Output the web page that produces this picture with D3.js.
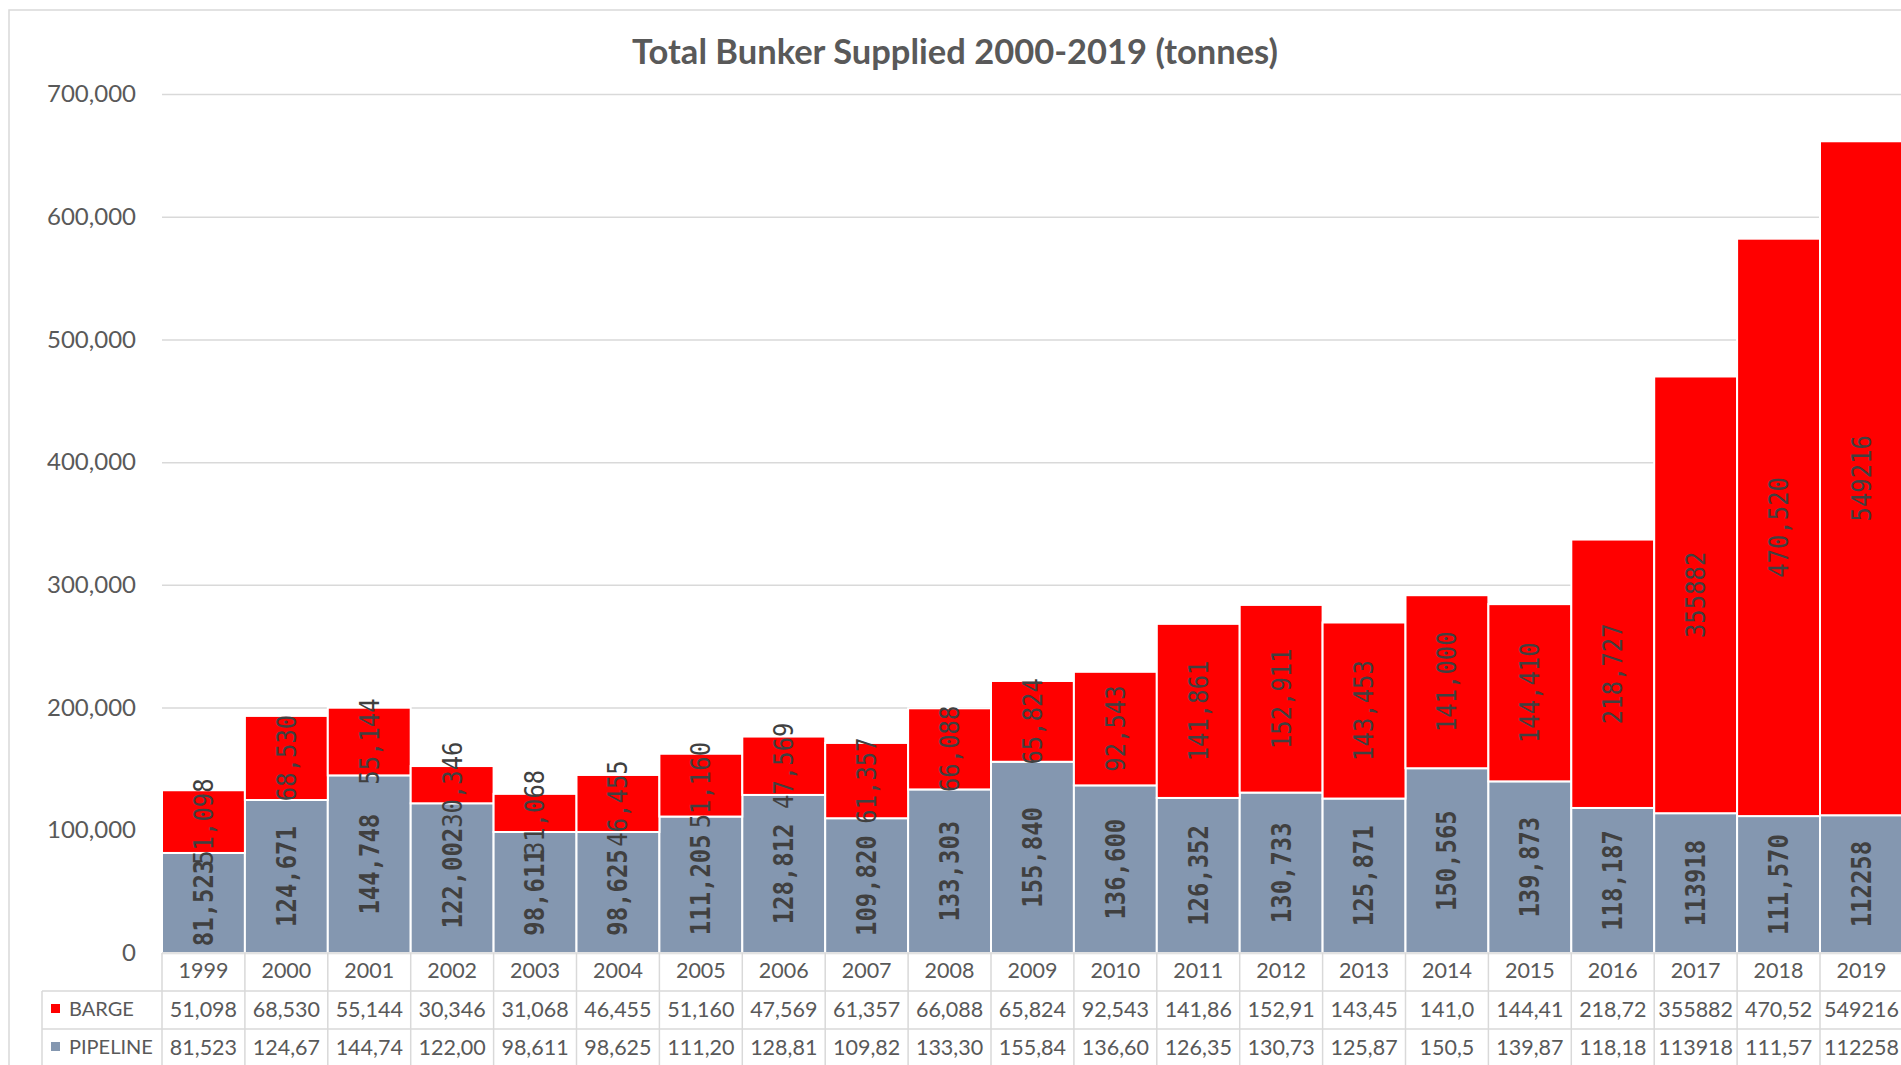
<!DOCTYPE html>
<html>
<head>
<meta charset="utf-8">
<script src="https://cdn.jsdelivr.net/npm/d3@7"></script>
<style>
  body { margin: 0; background: #fff; }
  svg { display: block; }
</style>
</head>
<body>
<svg width="1901" height="1065"></svg>
<script>
const width = 1901;
const height = 1065;

// data
const years = ['1999', '2000', '2001', '2002', '2003', '2004', '2005', '2006', '2007', '2008', '2009',
  '2010', '2011', '2012', '2013', '2014', '2015', '2016', '2017', '2018', '2019'];
const barge = [51098, 68530, 55144, 30346, 31068, 46455, 51160, 47569, 61357, 66088, 65824,
  92543, 141861, 152911, 143453, 141000, 144410, 218727, 355882, 470520, 549216];
const pipeline = [81523, 124671, 144748, 122002, 98611, 98625, 111205, 128812, 109820, 133303, 155840,
  136600, 126352, 130733, 125871, 150565, 139873, 118187, 113918, 111570, 112258];
// years whose labels were stored without thousands separators
const plainYears = ['2017', '2019'];
const yTicks = [0, 100000, 200000, 300000, 400000, 500000, 600000, 700000];
// data table text as it shows (cells clip the longer numbers)
const bargeCells = ['51,098', '68,530', '55,144', '30,346', '31,068', '46,455', '51,160', '47,569', '61,357',
  '66,088', '65,824', '92,543', '141,86', '152,91', '143,45', '141,0', '144,41', '218,72', '355882', '470,52', '549216'];
const pipelineCells = ['81,523', '124,67', '144,74', '122,00', '98,611', '98,625', '111,20', '128,81', '109,82',
  '133,30', '155,84', '136,60', '126,35', '130,73', '125,87', '150,5', '139,87', '118,18', '113918', '111,57', '112258'];

const colors = { barge: '#ff0000', pipeline: '#8497b0' };
const grid = '#d9d9d9';
const textCol = '#595959';

const plotLeft = 162, step = 82.9;
const plotRight = plotLeft + step * years.length;
const plotTop = 94, plotBottom = 953;
const rowH = 38;

const svg = d3.select('svg');

// outer chart border
svg.append('rect')
  .attr('x', 9).attr('y', 10)
  .attr('width', width + 20).attr('height', height + 20)
  .attr('fill', 'none').attr('stroke', grid).attr('stroke-width', 1.5);

svg.append('text')
  .attr('x', 955).attr('y', 64)
  .attr('text-anchor', 'middle')
  .attr('font-family', 'Lato, sans-serif')
  .attr('font-weight', 'bold')
  .attr('font-size', 34.5)
  .attr('fill', textCol)
  .text('Total Bunker Supplied 2000-2019 (tonnes)');

const x = d3.scaleBand().domain(years).range([plotLeft, plotRight]).padding(0);
const y = d3.scaleLinear().domain([0, 700000]).range([plotBottom, plotTop]);

// y axis with gridlines
const yAxis = svg.append('g')
  .attr('transform', `translate(${plotLeft},0)`)
  .call(d3.axisLeft(y).tickValues(yTicks).tickFormat(d3.format(','))
    .tickSizeInner(-(plotRight - plotLeft)).tickSizeOuter(0).tickPadding(26));
yAxis.select('.domain').remove();
yAxis.selectAll('line').attr('stroke', grid).attr('stroke-width', 1.5);
yAxis.selectAll('text')
  .attr('font-family', 'Lato, sans-serif')
  .attr('font-size', 24)
  .attr('fill', textCol);

const rows = years.map((yr, i) => ({ year: yr, pipeline: pipeline[i], barge: barge[i] }));
const series = d3.stack().keys(['pipeline', 'barge'])(rows);

const fmt = d3.format(',');
const labelOf = (v, yr) => plainYears.includes(yr) ? String(v) : fmt(v);

const layer = svg.selectAll('g.layer')
  .data(series)
  .join('g')
  .attr('class', 'layer')
  .attr('fill', d => colors[d.key]);

layer.selectAll('rect')
  .data(d => d)
  .join('rect')
  .attr('x', d => x(d.data.year))
  .attr('y', d => y(d[1]))
  .attr('width', x.bandwidth())
  .attr('height', d => y(d[0]) - y(d[1]))
  .attr('stroke', '#fff')
  .attr('stroke-width', 2);

// rotated value labels, centred in each segment
series.forEach(s => {
  svg.append('g').selectAll('text')
    .data(s)
    .join('text')
    .attr('transform', d => `translate(${x(d.data.year) + x.bandwidth() / 2},${(y(d[0]) + y(d[1])) / 2}) rotate(-90) scale(0.92,1)`)
    .attr('text-anchor', 'middle')
    .attr('dy', '0.36em')
    .attr('font-family', '"DejaVu Sans Mono", monospace')
    .attr('font-weight', s.key === 'pipeline' ? 'bold' : 'normal')
    .attr('font-size', 26)
    .attr('fill', '#404040')
    .text(d => labelOf(d.data[s.key], d.data.year));
});

// data table
const table = svg.append('g');
const tableBottom = height + 5;

table.append('line')
  .attr('x1', plotLeft).attr('x2', width).attr('y1', plotBottom).attr('y2', plotBottom)
  .attr('stroke', grid).attr('stroke-width', 1.5);
[plotBottom + rowH, plotBottom + rowH * 2].forEach(yy => {
  table.append('line')
    .attr('x1', 42).attr('x2', width).attr('y1', yy).attr('y2', yy)
    .attr('stroke', grid).attr('stroke-width', 1.5);
});
table.append('line')
  .attr('x1', 42).attr('x2', 42).attr('y1', plotBottom + rowH).attr('y2', tableBottom)
  .attr('stroke', grid).attr('stroke-width', 1.5);
table.selectAll('line.sep')
  .data(years)
  .join('line')
  .attr('class', 'sep')
  .attr('x1', d => x(d)).attr('x2', d => x(d))
  .attr('y1', plotBottom).attr('y2', tableBottom)
  .attr('stroke', grid).attr('stroke-width', 1.5);

const xAxis = svg.append('g')
  .attr('transform', `translate(0,${plotBottom})`)
  .call(d3.axisBottom(x).tickSize(0).tickPadding(10));
xAxis.select('.domain').remove();
xAxis.selectAll('text')
  .attr('font-family', 'Lato, sans-serif')
  .attr('font-size', 21.5)
  .attr('fill', textCol);

const tableRows = [
  { key: 'barge', name: 'BARGE', cells: bargeCells },
  { key: 'pipeline', name: 'PIPELINE', cells: pipelineCells }
];

tableRows.forEach((r, ri) => {
  const cy = plotBottom + rowH * (ri + 1) + rowH / 2 - 1;
  table.append('rect')
    .attr('x', 51).attr('y', cy - 5)
    .attr('width', 9).attr('height', 9)
    .attr('fill', colors[r.key]);
  table.append('text')
    .attr('x', 69).attr('y', cy)
    .attr('dy', '0.36em')
    .attr('font-family', 'Lato, sans-serif')
    .attr('font-size', 20)
    .attr('fill', textCol)
    .text(r.name);
  table.append('g').selectAll('text')
    .data(r.cells)
    .join('text')
    .attr('x', (d, i) => x(years[i]) + x.bandwidth() / 2)
    .attr('y', cy)
    .attr('dy', '0.36em')
    .attr('text-anchor', 'middle')
    .attr('font-family', 'Lato, sans-serif')
    .attr('font-size', 21.5)
    .attr('fill', textCol)
    .text(d => d);
});
</script>
</body>
</html>
